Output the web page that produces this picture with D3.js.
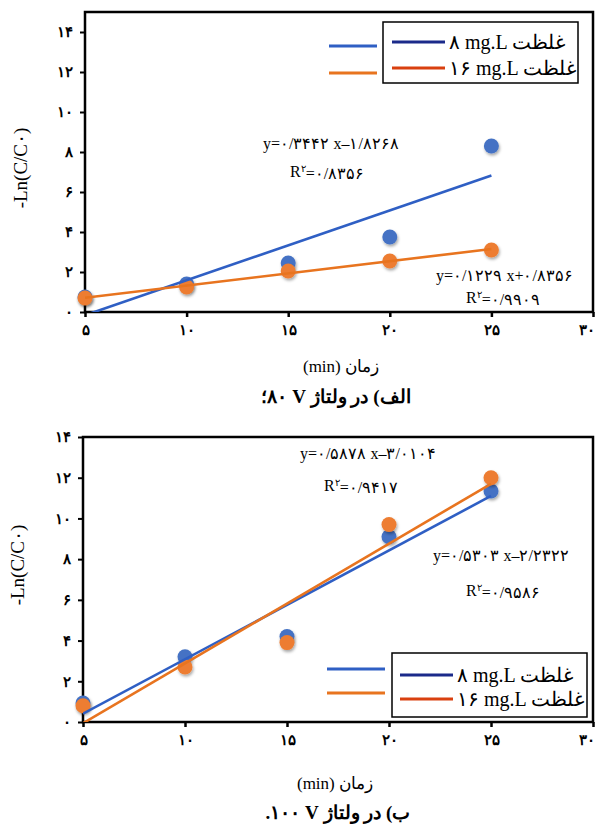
<!DOCTYPE html>
<html>
<head>
<meta charset="utf-8">
<script src="https://cdn.jsdelivr.net/npm/d3@7"></script>
<style>
  body { margin: 0; background: #fff; }
  svg text { font-family: "Liberation Serif", "DejaVu Serif", serif; fill: #000; }
  .tick text { font-size: 15px; font-weight: bold; }
</style>
</head>
<body>
<div id="chart"></div>
<script>

// data
var times = [5, 10, 15, 20, 25];
var blue80 = [0.75, 1.4, 2.45, 3.75, 8.3];
var orange80 = [0.7, 1.25, 2.05, 2.55, 3.1];
var blue100 = [0.93, 3.2, 4.2, 9.1, 11.35];
var orange100 = [0.8, 2.7, 3.9, 9.7, 12.0];

var xTicks = [5, 10, 15, 20, 25, 30];
var yTicks = [0, 2, 4, 6, 8, 10, 12, 14];

var seriesNames = ["۸ mg.L غلظت", "۱۶ mg.L غلظت"];
var eqText80 = ["y=۰/۳۴۴۲ x–۱/۸۲۶۸", "y=۰/۱۲۲۹ x+۰/۸۳۵۶"];
var r2Text80 = ["۰/۸۳۵۶", "۰/۹۹۰۹"];
var eqText100 = ["y=۰/۵۳۰۳ x–۲/۲۳۲۲", "y=۰/۵۸۷۸ x–۳/۰۱۰۴"];
var r2Text100 = ["۰/۹۵۸۶", "۰/۹۴۱۷"];

var xTitle = "زمان (min)";
var yTitle = "-Ln(C/C۰)";
// RLM after V keeps the number on its left, as in the original
var captions = ["الف) در ولتاژ V\u200F ۸۰؛", "ب) در ولتاژ V\u200F ۱۰۰."];

var colors = { blue: "#4472c4", orange: "#ed7d31", blueLine: "#2f5fc4", orangeLine: "#e8741f",
               navy: "#1b2a8a", red: "#d9400f" };

var W = 596, H = 834;

var svg = d3.select("#chart").append("svg")
    .attr("width", W)
    .attr("height", H);

var defs = svg.append("defs");
defs.append("filter")
    .attr("id", "shadow")
    .attr("x", "-50%").attr("y", "-50%").attr("width", "200%").attr("height", "200%")
  .append("feDropShadow")
    .attr("dx", 1).attr("dy", 2).attr("stdDeviation", 1.6)
    .attr("flood-color", "#000").attr("flood-opacity", 0.35);

function fa(n) {
    return String(n).replace(/[0-9]/g, function(d){ return "۰۱۲۳۴۵۶۷۸۹"[+d]; });
}

function fit(xs, ys) {
    var mx = d3.mean(xs), my = d3.mean(ys);
    var sxy = d3.sum(xs, function(x, i){ return (x - mx) * (ys[i] - my); });
    var sxx = d3.sum(xs, function(x){ return (x - mx) * (x - mx); });
    var b = sxy / sxx;
    return { slope: b, icpt: my - b * mx };
}

function panel(p) {

    var x = d3.scaleLinear().domain([5, 30]).range([p.left, p.right]);
    var y = d3.scaleLinear().domain([0, p.yMax]).range([p.bottom, p.top]);

    var g = svg.append("g");

    var clipId = "clip" + p.id;
    defs.append("clipPath").attr("id", clipId)
      .append("rect")
        .attr("x", p.left).attr("y", p.top)
        .attr("width", p.right - p.left).attr("height", p.bottom - p.top);

    // axes
    g.append("g")
        .attr("transform", "translate(" + p.left + ",0)")
        .call(d3.axisLeft(y).tickValues(yTicks).tickSize(5).tickPadding(7).tickFormat(fa))
        .call(function(a){ a.select(".domain").remove(); })
        .call(function(a){ a.selectAll("line").attr("stroke-width", 2); });

    g.append("g")
        .attr("transform", "translate(0," + p.bottom + ")")
        .call(d3.axisBottom(x).tickValues(xTicks).tickSize(5).tickPadding(7).tickFormat(fa))
        .call(function(a){ a.select(".domain").remove(); })
        .call(function(a){ a.selectAll("line").attr("stroke-width", 2.5); })
        .call(function(a){
            // last label sits at the page edge
            a.selectAll(".tick text").filter(function(d){ return d === 30; })
                .attr("text-anchor", "end").attr("dx", "0.1em");
        });

    // frame
    g.append("rect")
        .attr("x", p.left).attr("y", p.top)
        .attr("width", p.right - p.left).attr("height", p.bottom - p.top)
        .attr("fill", "none")
        .attr("stroke", "#000")
        .attr("stroke-width", 2.5);

    // points
    p.series.forEach(function(s){
        g.selectAll(null)
            .data(s.values)
            .enter()
            .append("circle")
            .attr("cx", function(d, i){ return x(times[i]); })
            .attr("cy", function(d){ return y(d); })
            .attr("r", 7.5)
            .attr("fill", s.color)
            .attr("filter", "url(#shadow)");
    });

    // trend lines
    p.series.forEach(function(s){
        var f = fit(times, s.values);
        var ends = [times[0], times[times.length - 1]];
        g.append("line")
            .attr("clip-path", "url(#" + clipId + ")")
            .attr("x1", x(ends[0])).attr("y1", y(f.icpt + f.slope * ends[0]))
            .attr("x2", x(ends[1])).attr("y2", y(f.icpt + f.slope * ends[1]))
            .attr("stroke", s.lineColor)
            .attr("stroke-width", 2.6);
    });

    // equations
    p.eqs.forEach(function(e){
        g.append("text")
            .attr("x", e.x).attr("y", e.y)
            .attr("dy", "0.35em")
            .style("font-size", "16px")
            .text(e.eq);
        var r = g.append("text")
            .attr("x", e.rx).attr("y", e.ry)
            .attr("dy", "0.35em")
            .style("font-size", "16px");
        r.append("tspan").text("R");
        r.append("tspan").attr("dy", "-0.45em").style("font-size", "10px").text("۲");
        r.append("tspan").attr("dy", "0.45em").text("=" + e.r2);
    });

    // legend
    var lg = p.legend;
    g.append("rect")
        .attr("x", lg.x).attr("y", lg.y)
        .attr("width", lg.w).attr("height", lg.h)
        .attr("fill", "#fff")
        .attr("stroke", "#000")
        .attr("stroke-width", 1.5);

    p.series.forEach(function(s, i){
        g.append("line")
            .attr("x1", lg.outX1).attr("x2", lg.outX2)
            .attr("y1", lg.outY[i]).attr("y2", lg.outY[i])
            .attr("stroke", s.lineColor)
            .attr("stroke-width", 3);
        g.append("line")
            .attr("x1", lg.inX1).attr("x2", lg.inX2)
            .attr("y1", lg.inY[i]).attr("y2", lg.inY[i])
            .attr("stroke", s.keyColor)
            .attr("stroke-width", 3);
        g.append("text")
            .attr("x", lg.inX2 + 4).attr("y", lg.inY[i])
            .attr("dy", "0.35em")
            .style("font-size", "20px")
            .text(seriesNames[i]);
    });

    // titles
    g.append("text")
        .attr("transform", "translate(" + p.yTitleX + "," + p.yTitleY + ") rotate(-90)")
        .attr("dy", "0.35em")
        .style("text-anchor", "middle")
        .style("font-size", "19px")
        .text(yTitle);

    g.append("text")
        .attr("x", p.xTitleX).attr("y", p.xTitleY)
        .attr("dy", "0.35em")
        .attr("direction", "rtl")
        .style("text-anchor", "middle")
        .style("font-size", "17px")
        .text(xTitle);

    g.append("text")
        .attr("x", p.capX).attr("y", p.capY)
        .attr("dy", "0.35em")
        .attr("direction", "rtl")
        .style("text-anchor", "middle")
        .style("font-size", "19px")
        .style("font-weight", "bold")
        .text(p.caption);
}

panel({
    id: 1,
    left: 85, right: 593, top: 12, bottom: 312, yMax: 15,
    series: [
        { values: blue80, color: colors.blue, lineColor: colors.blueLine, keyColor: colors.navy },
        { values: orange80, color: colors.orange, lineColor: colors.orangeLine, keyColor: colors.red }
    ],
    eqs: [
        { eq: eqText80[0], r2: r2Text80[0], x: 263, y: 143, rx: 290, ry: 171 },
        { eq: eqText80[1], r2: r2Text80[1], x: 436, y: 275, rx: 466, ry: 297 }
    ],
    legend: { x: 383, y: 22, w: 195, h: 61, outX1: 329, outX2: 377, outY: [46, 73],
              inX1: 392, inX2: 445, inY: [42, 68] },
    yTitleX: 20, yTitleY: 168,
    xTitleX: 341, xTitleY: 366,
    capX: 336, capY: 396,
    caption: captions[0]
});

panel({
    id: 2,
    left: 83, right: 593, top: 437, bottom: 722, yMax: 14,
    series: [
        { values: blue100, color: colors.blue, lineColor: colors.blueLine, keyColor: colors.navy },
        { values: orange100, color: colors.orange, lineColor: colors.orangeLine, keyColor: colors.red }
    ],
    eqs: [
        { eq: eqText100[0], r2: r2Text100[0], x: 433, y: 555, rx: 466, ry: 590 },
        { eq: eqText100[1], r2: r2Text100[1], x: 300, y: 453, rx: 324, ry: 485 }
    ],
    legend: { x: 392, y: 653, w: 195, h: 64, outX1: 327, outX2: 385, outY: [669, 693],
              inX1: 400, inX2: 453, inY: [675, 699] },
    yTitleX: 17, yTitleY: 565,
    xTitleX: 335, xTitleY: 783,
    capX: 338, capY: 812,
    caption: captions[1]
});

</script>
</body>
</html>
